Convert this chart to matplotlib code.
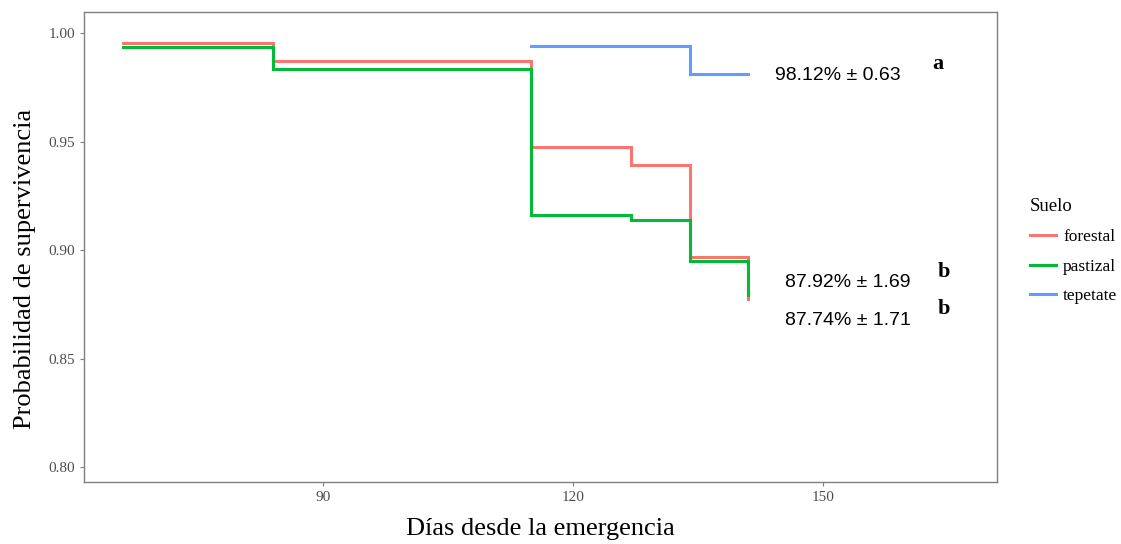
import matplotlib
matplotlib.use("Agg")
import matplotlib.pyplot as plt
from matplotlib.lines import Line2D

# Kaplan-Meier step curves (day of observation, survival probability)
forestal_days = [66, 84, 115, 127, 134, 141]
forestal_surv = [0.9957, 0.9874, 0.9474, 0.9391, 0.8970, 0.8774]

pastizal_days = [66, 84, 115, 127, 134, 141]
pastizal_surv = [0.9938, 0.9834, 0.9162, 0.9139, 0.8952, 0.8792]

tepetate_days = [115, 134, 141]
tepetate_surv = [0.9943, 0.9812, 0.9812]

series_names = ["forestal", "pastizal", "tepetate"]
series_colors = ["#F8766D", "#00BA38", "#619CFF"]

x_ticks = [90, 120, 150]
y_ticks = [0.80, 0.85, 0.90, 0.95, 1.00]

serif = "Liberation Serif"
sans = "Liberation Sans"

fig = plt.figure(figsize=(11.21, 5.44), dpi=100)
ax = fig.add_axes([0.0749, 0.114, 0.8145, 0.864])

curves = [(forestal_days, forestal_surv), (pastizal_days, pastizal_surv),
          (tepetate_days, tepetate_surv)]
for (d, s), c in zip(curves, series_colors):
    ax.plot(d, s, drawstyle="steps-post", color=c, lw=2.2, solid_joinstyle="miter")

ax.set_xlim(61.3, 170.9)
ax.set_ylim(0.7931, 1.0098)
ax.set_xticks(x_ticks)
ax.set_xticklabels([str(t) for t in x_ticks], fontfamily=serif, fontsize=11, color="#4d4d4d")
ax.set_yticks(y_ticks)
ax.set_yticklabels([f"{t:.2f}" for t in y_ticks], fontfamily=serif, fontsize=11, color="#4d4d4d")
ax.tick_params(length=3, color="#7f7f7f", width=0.8)
for sp in ax.spines.values():
    sp.set_color("#7f7f7f")
    sp.set_linewidth(1.0)

ax.set_xlabel("Días desde la emergencia", fontfamily=serif, fontsize=19, labelpad=10)
ax.set_ylabel("Probabilidad de supervivencia", fontfamily=serif, fontsize=19)
ax.yaxis.set_label_coords(-0.052, 0.453)

# Mean survival annotations and significance letters
ax.text(144.2, 0.9803, "98.12% ± 0.63", fontfamily=sans, fontsize=14, va="center", ha="left")
ax.text(163.8, 0.9857, "a", fontfamily=serif, fontweight="bold", fontsize=16, va="center", ha="center")
ax.text(145.4, 0.8849, "87.92% ± 1.69", fontfamily=sans, fontsize=14, va="center", ha="left")
ax.text(164.5, 0.8900, "b", fontfamily=serif, fontweight="bold", fontsize=16, va="center", ha="center")
ax.text(145.4, 0.8675, "87.74% ± 1.71", fontfamily=sans, fontsize=14, va="center", ha="left")
ax.text(164.5, 0.8730, "b", fontfamily=serif, fontweight="bold", fontsize=16, va="center", ha="center")

handles = [Line2D([], [], color=c, lw=2.2) for c in series_colors]
leg = fig.legend(handles, series_names, title="Suelo", loc="upper left",
                 bbox_to_anchor=(0.905, 0.664), frameon=False,
                 prop={"family": serif, "size": 12.5},
                 handlelength=1.5, labelspacing=0.78, handletextpad=0.4)
leg.get_title().set_fontfamily(serif)
leg.get_title().set_fontsize(13.5)
leg._legend_box.align = "left"

fig.savefig("out.png", dpi=100)
